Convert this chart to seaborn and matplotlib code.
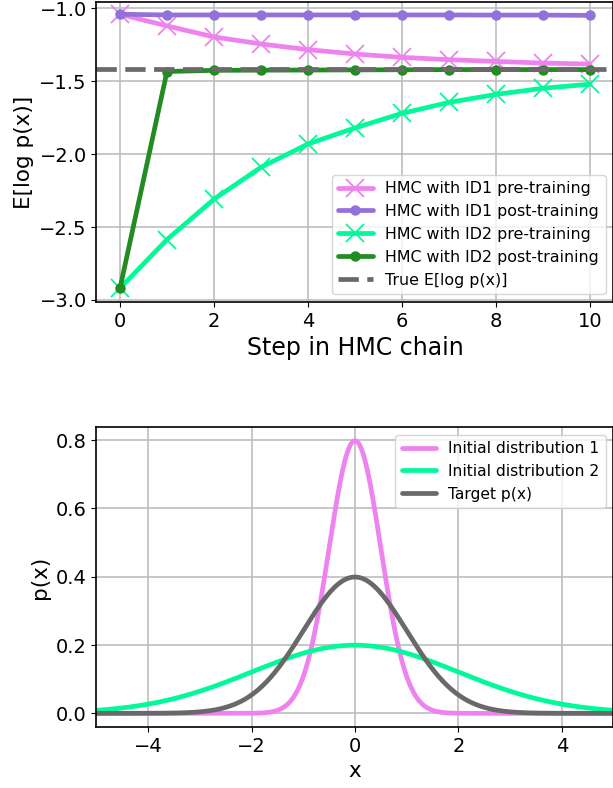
import numpy as np
import matplotlib
matplotlib.use("Agg")
import matplotlib.pyplot as plt
import seaborn as sns

# ---------------- data ----------------
steps = list(range(11))
id1_pre = [-1.04, -1.12, -1.196, -1.244, -1.283, -1.313, -1.336, -1.352, -1.364, -1.375, -1.382]
id1_post = [-1.04, -1.045, -1.045, -1.045, -1.045, -1.045, -1.045, -1.045, -1.046, -1.046, -1.048]
id2_pre = [-2.92, -2.586, -2.309, -2.09, -1.93, -1.82, -1.72, -1.645, -1.59, -1.548, -1.52]
id2_post = [-2.92, -1.433, -1.425, -1.424, -1.423, -1.422, -1.421, -1.42, -1.42, -1.42, -1.42]
true_elogp = -1.419

series_labels = ["HMC with ID1 pre-training", "HMC with ID1 post-training",
                 "HMC with ID2 pre-training", "HMC with ID2 post-training"]
true_label = "True E[log p(x)]"

dist_labels = ["Initial distribution 1", "Initial distribution 2", "Target p(x)"]
dist_means = [0.0, 0.0, 0.0]
dist_stds = [0.5, 2.0, 1.0]

# ---------------- style ----------------
sns.set_style("ticks", {"axes.grid": True, "grid.color": "#bdbdbd",
                        "axes.edgecolor": "black", "xtick.direction": "out",
                        "ytick.direction": "out", "text.color": "black",
                        "axes.labelcolor": "black", "xtick.color": "black",
                        "ytick.color": "black"})
plt.rcParams["font.family"] = ["DejaVu Sans"]
plt.rcParams["grid.linewidth"] = 1.2

fig = plt.figure(figsize=(6.13, 7.88), dpi=100)
ax1 = fig.add_axes([0.1574, 0.6168, 0.8434, 0.3807])
ax2 = fig.add_axes([0.1574, 0.0774, 0.8434, 0.3807])

colors = ["violet", "mediumpurple", "mediumspringgreen", "forestgreen"]
markers = ["x", "o", "x", "o"]
msizes = [12.5, 6.5, 12.5, 6.5]
mews = [1.3, 1, 1.3, 1]
values = [id1_pre, id1_post, id2_pre, id2_post]

LW = 3.4
for vals, lab, c, m, ms, mew in zip(values, series_labels, colors, markers, msizes, mews):
    sns.lineplot(x=steps, y=vals, ax=ax1, color=c, marker=m, markersize=ms,
                 markeredgewidth=mew, markeredgecolor=c, linewidth=LW, label=lab)
ax1.axhline(true_elogp, color="dimgray", linestyle=(0, (4.3, 1.8)), linewidth=LW,
            label=true_label)

ax1.set_xticks([0, 2, 4, 6, 8, 10])
ax1.set_yticks([-3.0, -2.5, -2.0, -1.5, -1.0])
ax1.set_xlim(-0.5, 10.5)
ax1.set_ylim(-3.014, -0.956)
ax1.set_xlabel("Step in HMC chain", fontsize=17, color="black")
ax1.set_ylabel("E[log p(x)]", fontsize=15.5, color="black")
ax1.tick_params(labelsize=14, colors="black")
leg1 = ax1.legend(loc="lower right", fontsize=11.4, framealpha=0.8, handlelength=2.2)
for t in leg1.get_texts():
    t.set_color("black")

x = np.linspace(-5, 5, 1001)
dcolors = ["violet", "mediumspringgreen", "dimgray"]
for lab, mu, sd, c in zip(dist_labels, dist_means, dist_stds, dcolors):
    pdf = np.exp(-0.5 * ((x - mu) / sd) ** 2) / (sd * np.sqrt(2 * np.pi))
    sns.lineplot(x=x, y=pdf, ax=ax2, color=c, linewidth=LW, label=lab)

ax2.set_xlim(-5, 5)
ax2.set_ylim(-0.04, 0.838)
ax2.set_xticks([-4, -2, 0, 2, 4])
ax2.set_yticks([0.0, 0.2, 0.4, 0.6, 0.8])
ax2.set_xlabel("x", fontsize=15.5, color="black")
ax2.set_ylabel("p(x)", fontsize=15.5, color="black")
ax2.tick_params(labelsize=14, colors="black")
leg2 = ax2.legend(loc="upper right", fontsize=11.2, framealpha=0.8, handlelength=2.2)
for t in leg2.get_texts():
    t.set_color("black")

for ax in (ax1, ax2):
    for s in ax.spines.values():
        s.set_linewidth(1.2)
        s.set_color("black")

fig.savefig("out.png", dpi=100)
